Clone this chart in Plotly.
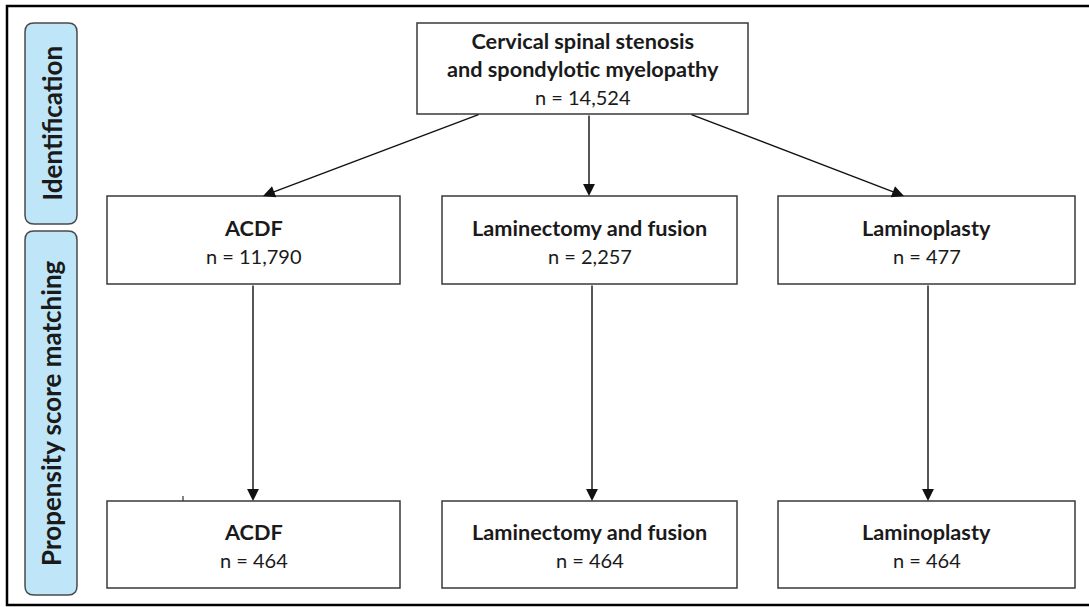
import plotly.graph_objects as go

# ---- data ----
source_lines = ["Cervical spinal stenosis", "and spondylotic myelopathy"]
source_n = 14524
procedures = ["ACDF", "Laminectomy and fusion", "Laminoplasty"]
initial_n = [11790, 2257, 477]
matched_n = [464, 464, 464]
phases = ["Identification", "Propensity score matching"]

W, H = 1089, 607
FONT = "Lato, Open Sans, DejaVu Sans, sans-serif"
TXT = "#1a1a1a"
BORDER = "#3a3a3a"
BOLD_SIZE = 21.7
REG_SIZE = 20
SIDE_SIZE = 26

fig = go.Figure()
shapes = []
ann = []

def box(x0, x1, y0, y1):
    shapes.append(dict(type="rect", xref="x", yref="y", x0=x0, x1=x1, y0=y0, y1=y1,
                       line=dict(color=BORDER, width=1.5), fillcolor="white", layer="below"))

def text(x, y, s, bold=False):
    ann.append(dict(x=x, y=y, xref="x", yref="y", text=f"<b>{s}</b>" if bold else s,
                    showarrow=False,
                    font=dict(family=FONT, size=BOLD_SIZE if bold else REG_SIZE, color=TXT),
                    xanchor="center", yanchor="middle"))

def arrow(x0, y0, x1, y1):
    ann.append(dict(x=x1, y=y1, ax=x0, ay=y0, xref="x", yref="y", axref="x", ayref="y",
                    text="", showarrow=True, arrowhead=2, arrowsize=1.7, arrowwidth=1.4,
                    arrowcolor="#111111", standoff=0, startstandoff=0))

# outer frame
shapes.append(dict(type="rect", xref="x", yref="y", x0=7, x1=1110, y0=6, y1=605,
                   line=dict(color="black", width=2.5), fillcolor="rgba(0,0,0,0)"))

# phase labels (rounded boxes)
def rounded(x0, x1, y0, y1, r=9):
    path = (f"M {x0+r},{y0} L {x1-r},{y0} Q {x1},{y0} {x1},{y0+r} "
            f"L {x1},{y1-r} Q {x1},{y1} {x1-r},{y1} L {x0+r},{y1} Q {x0},{y1} {x0},{y1-r} "
            f"L {x0},{y0+r} Q {x0},{y0} {x0+r},{y0} Z")
    shapes.append(dict(type="path", xref="x", yref="y", path=path,
                       line=dict(color="#4a4a4a", width=1.5), fillcolor="#bfe6f8"))

phase_boxes = [(25, 77, 23, 224), (25, 77, 231, 595)]
for (x0, x1, y0, y1), lab in zip(phase_boxes, phases):
    rounded(x0, x1, y0, y1)
    ann.append(dict(x=(x0 + x1) / 2, y=(y0 + y1) / 2, xref="x", yref="y",
                    text=f"<b>{lab}</b>", showarrow=False, textangle=-90,
                    font=dict(family=FONT, size=SIDE_SIZE, color=TXT),
                    xanchor="center", yanchor="middle"))

# top box
box(417, 748, 23, 114)
text(583, 55, "<br>".join(source_lines), bold=True)
text(583, 97, f"n = {source_n:,}")

cols = [(107, 400), (442, 737), (778, 1075)]
arrow_tops = [263, 589, 904]
arrow_starts = [480, 589, 690]
vert_x = [253, 592, 928]

for i, (x0, x1) in enumerate(cols):
    cx = (x0 + x1) / 2
    box(x0, x1, 196, 284)
    text(cx, 228, procedures[i], bold=True)
    text(cx, 256, f"n = {initial_n[i]:,}")
    box(x0, x1, 501, 588)
    text(cx, 532, procedures[i], bold=True)
    text(cx, 560, f"n = {matched_n[i]:,}")
    arrow(arrow_starts[i], 114, arrow_tops[i], 196)
    arrow(vert_x[i], 284, vert_x[i], 501)

# small stray tick seen in the original
shapes.append(dict(type="line", xref="x", yref="y", x0=183, x1=183, y0=496, y1=501,
                   line=dict(color="#333", width=1.2)))

fig.update_layout(
    width=W, height=H, margin=dict(l=0, r=0, t=0, b=0),
    plot_bgcolor="white", paper_bgcolor="white",
    xaxis=dict(range=[0, W], visible=False, fixedrange=True),
    yaxis=dict(range=[H, 0], visible=False, fixedrange=True),
    shapes=shapes, annotations=ann, showlegend=False,
)
fig.write_html("out.html", config={"displayModeBar": False},
               post_script="document.body.style.margin='0';document.body.style.overflow='hidden';")
